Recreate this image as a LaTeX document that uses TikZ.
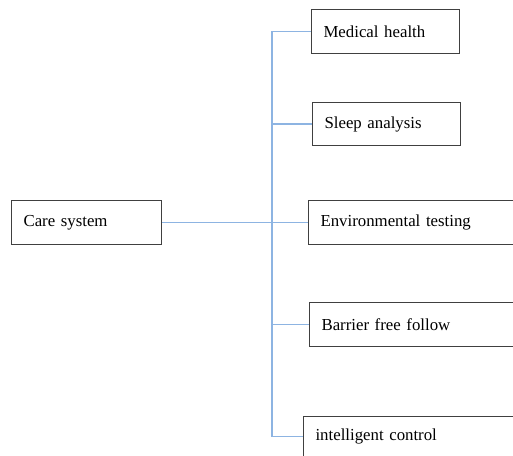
\documentclass[tikz,border=0pt]{standalone}
\usepackage{fontspec}
\setmainfont{Liberation Serif}
\begin{document}
\begin{tikzpicture}[x=1pt,y=-1pt,
  box/.style={draw=black!75, line width=1.1pt, inner xsep=12pt, inner ysep=0pt,
    anchor=north west, align=left, font=\fontsize{16.8}{20}\selectfont},
  link/.style={draw={rgb,255:red,141;green,180;blue,226}, line width=1.5pt}]
\useasboundingbox (0,0) rectangle (513,455);
\clip (0,0) rectangle (513,455);
\node[box, minimum width=150pt, minimum height=44pt, text width=126pt] (care) at (11,200) {Care system};
\node[box, minimum width=148pt, minimum height=44pt, text width=124pt] (med) at (311,9) {Medical health};
\node[box, minimum width=148pt, minimum height=43pt, text width=124pt] (sleep) at (312,102) {Sleep analysis};
\node[box, minimum width=230pt, minimum height=44pt, text width=206pt] (env) at (308,200) {Environmental testing};
\node[box, minimum width=230pt, minimum height=44pt, text width=206pt] (bar) at (309,302) {Barrier free follow};
\node[box, minimum width=240pt, minimum height=40pt, text width=216pt] (intel) at (303,416) {intelligent control};
\coordinate (bus) at (272,222);
\draw[link] (care.east) -- (env.west);
\draw[link] (med.west) -- (med.west -| bus) -- (intel.west -| bus) -- (intel.west);
\draw[link] (sleep.west -| bus) -- (sleep.west);
\draw[link] (bar.west -| bus) -- (bar.west);
\end{tikzpicture}
\end{document}
